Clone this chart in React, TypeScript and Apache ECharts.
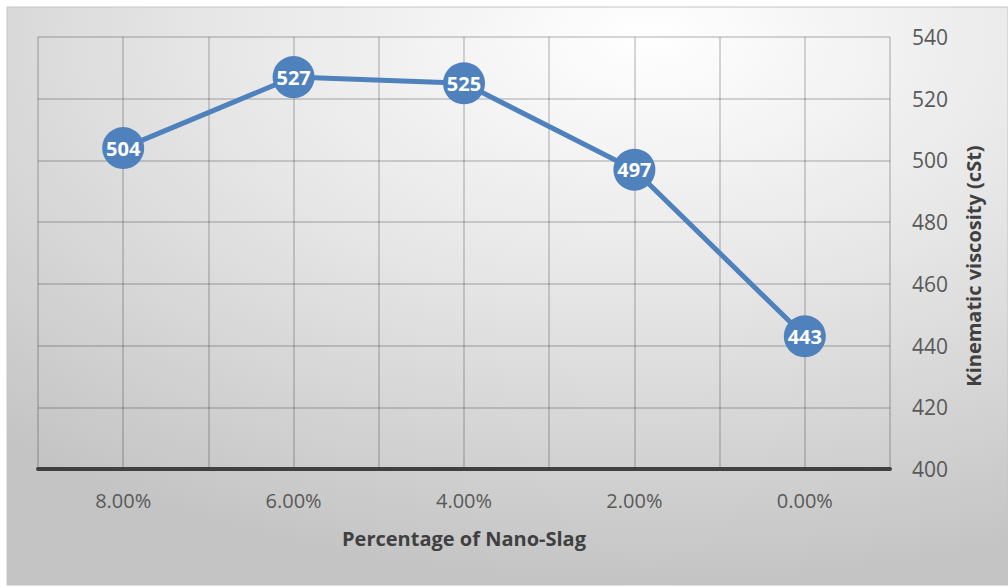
import React, { useEffect, useRef } from "react";
import * as echarts from "echarts";

const categories = ["8.00%", "6.00%", "4.00%", "2.00%", "0.00%"];
const viscosity = [504, 527, 525, 497, 443];
const xAxisTitle = "Percentage of Nano-Slag";
const yAxisTitle = "Kinematic viscosity (cSt)";

const FONT = "'Open Sans', 'Noto Sans', sans-serif";

export default function App() {
  const ref = useRef<HTMLDivElement>(null);
  useEffect(() => {
    if (!ref.current) return;
    const chart = echarts.init(ref.current, undefined, { renderer: "svg" });
    chart.setOption({
      animation: false,
      graphic: [
        {
          type: "rect",
          z: -10,
          silent: true,
          shape: { x: 7, y: 7, width: 1001, height: 578 },
          style: {
            fill: new echarts.graphic.RadialGradient(0.64, 0.05, 0.95, [
              { offset: 0, color: "#ffffff" },
              { offset: 0.45, color: "#e7e7e7" },
              { offset: 1, color: "#c4c4c4" },
            ]),
            stroke: "#c4c4c4",
            lineWidth: 1,
          },
        },
      ],
      grid: { left: 38, right: 118, top: 37, bottom: 118, containLabel: false },
      xAxis: [
        {
          type: "category",
          data: categories,
          boundaryGap: true,
          axisLine: { show: true, lineStyle: { color: "#404040", width: 4 } },
          axisTick: { show: false },
          splitLine: { show: false },
          axisLabel: { color: "#595959", fontSize: 20, fontFamily: FONT, margin: 21 },
          name: xAxisTitle,
          nameLocation: "middle",
          nameGap: 59,
          nameTextStyle: { color: "#404040", fontSize: 20, fontWeight: "bold", fontFamily: FONT },
          z: 5,
        },
        {
          type: "value",
          min: 0,
          max: 10,
          interval: 1,
          position: "top",
          axisLine: { show: false },
          axisTick: { show: false },
          axisLabel: { show: false },
          splitLine: { show: true, lineStyle: { color: "rgba(0,0,0,0.21)", width: 1.5 } },
        },
      ],
      yAxis: {
        type: "value",
        position: "right",
        min: 400,
        max: 540,
        interval: 20,
        axisLine: { show: false },
        axisTick: { show: false },
        axisLabel: { color: "#595959", fontSize: 21, fontFamily: FONT, margin: 22 },
        splitLine: { show: true, lineStyle: { color: "rgba(0,0,0,0.21)", width: 1.5 } },
        name: yAxisTitle,
        nameLocation: "middle",
        nameRotate: 90,
        nameGap: 73,
        nameTextStyle: {
          color: "#404040",
          fontSize: 20,
          fontWeight: "bold",
          fontFamily: FONT,
          padding: [0, 0, 0, -26],
        },
      },
      series: [
        {
          type: "line",
          xAxisIndex: 0,
          data: viscosity,
          symbol: "circle",
          symbolSize: 42,
          lineStyle: { color: "#4F81BD", width: 5 },
          itemStyle: { color: "#4F81BD" },
          label: {
            show: true,
            position: "inside",
            color: "#ffffff",
            fontWeight: "bold",
            fontSize: 20,
            fontFamily: FONT,
          },
          z: 10,
        },
      ],
    });
    return () => chart.dispose();
  }, []);
  return (
    <div
      ref={ref}
      style={{ position: "absolute", left: 0, top: 0, width: 1008, height: 587, background: "#ffffff" }}
    />
  );
}
